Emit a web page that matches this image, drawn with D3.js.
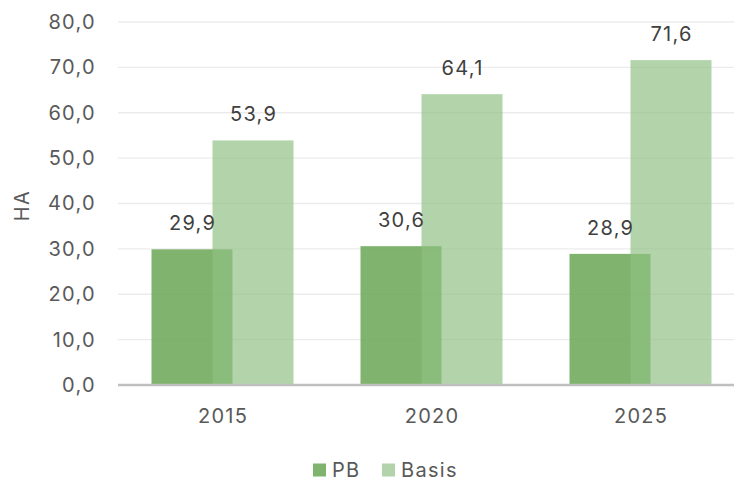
<!DOCTYPE html>
<html><head><meta charset="utf-8">
<script src="https://cdn.jsdelivr.net/npm/d3@7"></script>
<style>body{margin:0;background:#fff}svg{display:block}text{font-family:Inter,"Liberation Sans",Arial,sans-serif;letter-spacing:1.3px}</style>
</head><body>
<svg id="chart" width="734" height="481"></svg>
<script>
const categories = ["2015", "2020", "2025"];
const seriesNames = ["PB", "Basis"];
const pbValues = [29.9, 30.6, 28.9];
const basisValues = [53.9, 64.1, 71.6];
const yTicks = [0, 10, 20, 30, 40, 50, 60, 70, 80];
const yTitle = "HA";

const svg = d3.select("#chart");
const x = d3.scaleBand().domain(categories).range([118, 745]).padding(0);
const y = d3.scaleLinear().domain([0, 80]).range([385, 22]);
const fmt = v => d3.format(".1f")(v).replace(".", ",");
const barW = 81, off = 30.5;
const FS = 20;
const FF = "Inter, 'Liberation Sans', Arial, sans-serif";
const colors = {PB: "rgba(110,168,90,0.88)", Basis: "rgba(143,192,131,0.68)"};

// gridlines
svg.append("g").selectAll("line").data(yTicks.filter(d => d > 0)).join("line")
  .attr("x1", 118).attr("x2", 745).attr("y1", d => y(d)).attr("y2", d => y(d))
  .attr("stroke", "#ececec").attr("stroke-width", 1.3);

// y axis labels
const yAxis = d3.axisLeft(y).tickValues(yTicks).tickFormat(fmt).tickSize(0).tickPadding(0);
const ya = svg.append("g").attr("transform", "translate(96,0)").call(yAxis);
ya.select(".domain").remove();
ya.selectAll("text").attr("font-size", FS).attr("fill", "#595959").style("font-family", FF);

// bars
const series = [
  {name: "PB", values: pbValues, dx: -off},
  {name: "Basis", values: basisValues, dx: off}
];
series.forEach(s => {
  svg.append("g").selectAll("rect").data(categories).join("rect")
    .attr("x", (c) => x(c) + x.bandwidth() / 2 + s.dx - barW / 2)
    .attr("width", barW)
    .attr("y", (c, i) => y(s.values[i]))
    .attr("height", (c, i) => y(0) - y(s.values[i]))
    .attr("fill", colors[s.name]);
});
series.forEach(s => {
  svg.append("g").selectAll("text").data(categories).join("text")
    .attr("x", (c) => x(c) + x.bandwidth() / 2 + s.dx + 0.6)
    .attr("y", (c, i) => y(s.values[i]) - 19)
    .attr("text-anchor", "middle").attr("font-size", FS).attr("fill", "#404040")
    .text((c, i) => fmt(s.values[i]));
});

// baseline
svg.append("line").attr("x1", 118).attr("x2", 745).attr("y1", y(0)).attr("y2", y(0))
  .attr("stroke", "#bfbfbf").attr("stroke-width", 2.5);

// x axis
const xAxis = d3.axisBottom(x).tickSize(0).tickPadding(0);
const xa = svg.append("g").attr("transform", "translate(0.6,409)").call(xAxis);
xa.select(".domain").remove();
xa.selectAll("text").attr("font-size", FS).attr("fill", "#595959").attr("dy", "0.71em").style("font-family", FF);

// y title
svg.append("text").attr("transform", "translate(29,205.5) rotate(-90)")
  .attr("text-anchor", "middle").attr("font-size", FS).attr("fill", "#595959").text(yTitle);

// legend
const legendX = [313, 382];
seriesNames.forEach((n, i) => {
  const g = svg.append("g").attr("transform", `translate(${legendX[i]},463.5)`);
  g.append("rect").attr("width", 13).attr("height", 13).attr("fill", colors[n]);
  g.append("text").attr("x", 19).attr("y", 13).attr("font-size", FS).attr("fill", "#595959").text(n);
});
</script>
</body></html>
